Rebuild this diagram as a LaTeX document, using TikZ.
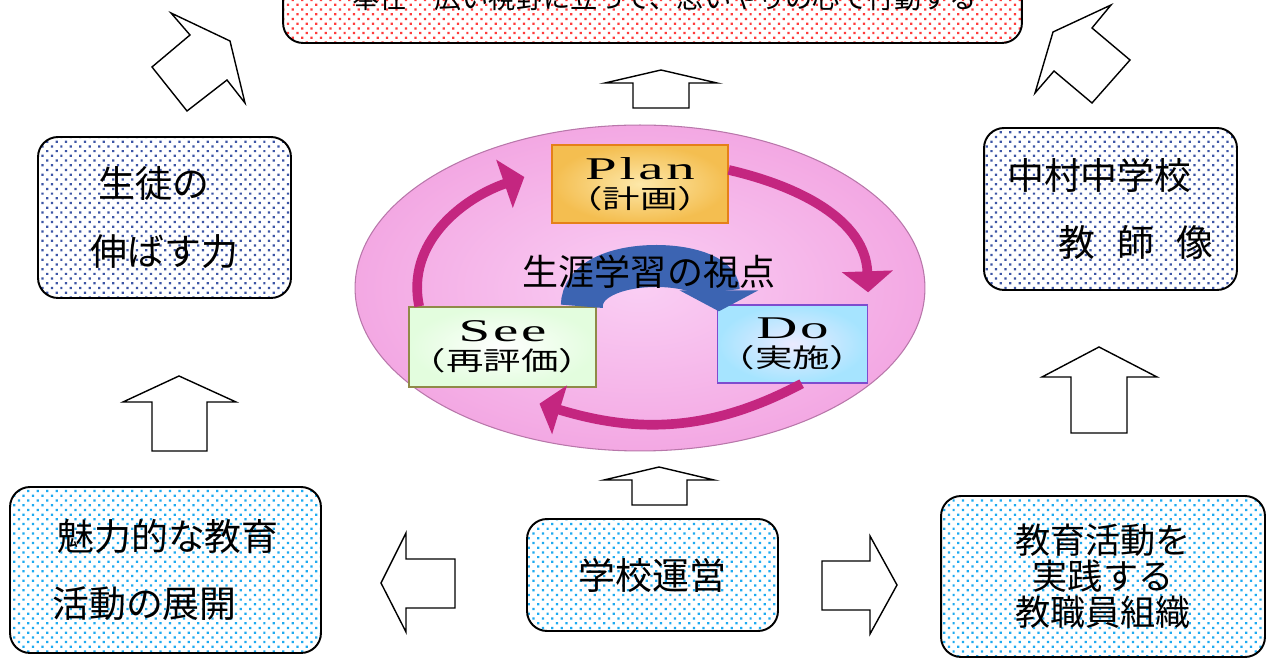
\documentclass[tikz,border=0pt]{standalone}
\usepackage{fontspec}
\usepackage{graphicx}
\newfontfamily\jpfont{Noto Sans CJK JP}
\newfontfamily\pdcafont[LetterSpace=5]{Liberation Serif}
\newfontfamily\pdcajp{Noto Sans CJK JP}
\newcommand\wide[2][1.45]{\scalebox{#1}[1]{#2}}
\usetikzlibrary{shapes.geometric, patterns.meta, arrows.meta}

\definecolor{dotred}{RGB}{255,60,60}
\definecolor{dotnavy}{RGB}{60,85,165}
\definecolor{dotcyan}{RGB}{30,170,240}
\definecolor{cyclemag}{RGB}{196,38,128}
\definecolor{archblue}{RGB}{60,100,178}
\definecolor{ovalpink}{RGB}{243,168,227}
\definecolor{ovallight}{RGB}{250,206,244}
\definecolor{ovaledge}{RGB}{184,119,170}
\definecolor{plangold}{RGB}{244,190,80}
\definecolor{planlight}{RGB}{253,232,170}

\tikzset{
  goalbox/.style={draw, line width=1.1pt, rounded corners=0.4cm, preaction={fill=white},
    font=\jpfont\fontsize{21}{38.6}\selectfont},
  reddots/.style={goalbox, pattern={Dots[angle=45,distance=3.8pt,radius=0.9pt]}, pattern color=dotred},
  navydots/.style={goalbox, pattern={Dots[angle=45,distance=3.8pt,radius=0.9pt]}, pattern color=dotnavy},
  cyandots/.style={goalbox, pattern={Dots[angle=45,distance=3.8pt,radius=0.9pt]}, pattern color=dotcyan},
  hollow/.style={draw, fill=white, line width=0.8pt, line join=miter},
  pdcabox/.style={draw, line width=0.8pt, align=center, inner sep=0pt,
    font=\fontsize{18}{16.5}\selectfont},
  cyclearrow/.style={draw=cyclemag, line width=5.5pt, -{Triangle[width=1.0cm,length=0.42cm]}},
}

\begin{document}
\begin{tikzpicture}[x=0.02cm, y=-0.02cm]
    \useasboundingbox (0,0) rectangle (1268,661);

    % goal on top, partly outside the page
    \node[reddots, minimum width=14.78cm, minimum height=1.8cm, font=\jpfont\fontsize{15.5}{18}\selectfont]
        (goal) at (652.5,-2) {\hspace*{0.48cm}奉仕　広い視野に立って、思いやりの心で行動する};

    % side boxes
    \node[navydots, minimum width=5.06cm, minimum height=3.22cm, align=left]
        (power) at (164.5,217.5) {\hspace*{0.22em}生徒の\\伸ばす力};
    \node[navydots, minimum width=5.06cm, minimum height=3.24cm, align=left]
        (teacher) at (1110.5,209) {中村中学校\\\hspace*{1.4em}教\hspace{0.6em}師\hspace{0.6em}像};
    \node[cyandots, minimum width=6.22cm, minimum height=3.32cm, align=left]
        (activity) at (165.5,570) {\hspace*{0.14em}魅力的な教育\\活動の展開};
    \node[cyandots, minimum width=5.02cm, minimum height=2.24cm]
        (school) at (652.5,575) {学校運営};
    \node[cyandots, minimum width=6.48cm, minimum height=3.22cm, align=center, font=\jpfont\fontsize{20}{20.4}\selectfont]
        (staff) at (1103,576.5) {教育活動を\\実践する\\教職員組織};

    % PDCA oval
    \node[ellipse, draw=ovaledge, line width=0.6pt, inner color=ovallight, outer color=ovalpink,
        minimum width=11.4cm, minimum height=6.52cm, inner sep=0pt] (oval) at (640,288) {};
    \node[pdcabox, draw=orange!60!brown, inner color=planlight, outer color=plangold,
        minimum width=3.52cm, minimum height=1.56cm] (plan) at (640,184)
        {\wide[1.8]{\pdcafont Plan}\\\wide{\pdcajp\fontsize{14.7}{16}\selectfont （計画）}};
    \node[pdcabox, draw=blue!45!violet!70, inner color=blue!8, outer color=blue!30!cyan!35,
        minimum width=2.94cm, minimum height=1.56cm] (do) at (792.5,344)
        {\wide[1.8]{\pdcafont Do}\\\wide{\pdcajp\fontsize{14.7}{16}\selectfont （実施）}};
    \node[pdcabox, draw=olive!50!gray, inner color=white, outer color=olive!15!green!12,
        minimum width=3.7cm, minimum height=1.6cm] (see) at (502.5,347)
        {\wide[1.8]{\pdcafont See}\\\wide{\pdcajp\fontsize{14.7}{16}\selectfont （再評価）}};

    \draw[cyclearrow] (plan.9) to[out=-13, in=92] ([yshift=0.24cm]do.north east);
    \draw[cyclearrow] (do.-77) to[out=208, in=-17] ([shift={(37,16)}]see.south);
    \draw[cyclearrow] ([xshift=0.22cm]see.north west) to[out=102, in=199] ([shift={(-27,-7)}]plan.west);

    \draw[draw=archblue, line width=0.84cm, -{Triangle[width=1.56cm,length=0.42cm]}]
        ([xshift=-0.3cm]see.north east) to[out=90, in=90] ([shift={(2,7)}]do.north west);
    \node[font=\jpfont\fontsize{20.5}{24}\selectfont] (view) at (649,272) {生涯学習の視点};

    % hollow block arrows
    \draw[hollow] (171,13) -- (230,41) -- (245,103) -- (227,80) -- (187,111) -- (152,67) -- (190,35) -- cycle;
    \draw[hollow] (1111,5) -- (1092,28) -- (1130,60) -- (1092,103) -- (1054,71) -- (1035,93) -- (1053,32) -- cycle;
    \draw[hollow] (661,70) -- (717,83) -- (689,83) -- (689,108) -- (633,108) -- (633,83) -- (605,83) -- cycle;
    \draw[hollow] (179,376) -- (236,402) -- (207,402) -- (207,451) -- (152,451) -- (152,402) -- (123,402) -- cycle;
    \draw[hollow] (1099,347) -- (1157,377) -- (1127,377) -- (1127,433) -- (1071,433) -- (1071,377) -- (1042,377) -- cycle;
    \draw[hollow] (659,467) -- (714,480) -- (687,480) -- (687,505) -- (632,505) -- (632,480) -- (604,480) -- cycle;
    \draw[hollow] (381,583) -- (406,533) -- (406,559) -- (455,559) -- (455,608) -- (406,608) -- (406,632) -- cycle;
    \draw[hollow] (897,585) -- (870,536) -- (870,561) -- (822,561) -- (822,610) -- (870,610) -- (870,634) -- cycle;
\end{tikzpicture}
\end{document}
